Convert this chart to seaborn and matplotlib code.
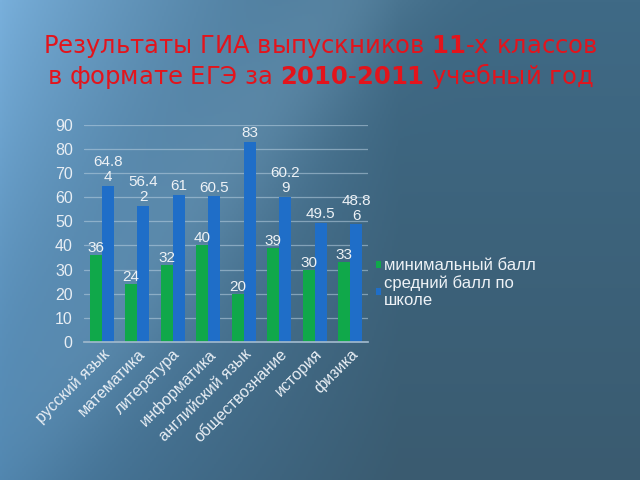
import numpy as np
import pandas as pd
import matplotlib
matplotlib.use("Agg")
import matplotlib.pyplot as plt
import seaborn as sns

subjects = ["русский язык", "математика", "литература", "информатика",
            "английский язык", "обществознание", "история", "физика"]
min_score = [36, 24, 32, 40, 20, 39, 30, 33]
avg_score = [64.84, 56.42, 61, 60.5, 83, 60.29, 49.5, 48.86]
min_labels = ["36", "24", "32", "40", "20", "39", "30", "33"]
avg_labels = ["64.8\n4", "56.4\n2", "61", "60.5", "83", "60.2\n9", "49.5", "48.8\n6"]
series_names = ["минимальный балл", "средний балл по\nшколе"]
yticks = [0, 10, 20, 30, 40, 50, 60, 70, 80, 90]
title_line1 = "Результаты ГИА выпускников $\\mathbf{11}$-х классов"
title_line2 = "в формате ЕГЭ за $\\mathbf{2010}$-$\\mathbf{2011}$ учебный год"

df = pd.DataFrame({
    "subject": subjects * 2,
    "value": min_score + avg_score,
    "series": [series_names[0]] * len(subjects) + [series_names[1]] * len(subjects),
})

sns.set_theme(style="white")
plt.rcParams["font.family"] = ["Liberation Sans", "DejaVu Sans"]
plt.rcParams["mathtext.fontset"] = "dejavusans"

fig = plt.figure(figsize=(6.4, 4.8), dpi=100)

# background gradient
bg = fig.add_axes([0, 0, 1, 1], zorder=-10)
bg.axis("off")
h, w = 240, 320
yy, xx = np.mgrid[0:1:h * 1j, 0:1:w * 1j]
tl = np.array([0x79, 0xb0, 0xdc]) / 255
tr = np.array([0x3f, 0x6a, 0x86]) / 255
bl = np.array([0x4a, 0x7f, 0xa8]) / 255
br = np.array([0x3a, 0x5b, 0x70]) / 255
xs = np.clip(xx * 1.6, 0, 1) ** 0.8
img = ((1 - yy)[..., None] * ((1 - xs)[..., None] * tl + xs[..., None] * tr)
       + yy[..., None] * ((1 - xs)[..., None] * bl + xs[..., None] * br))
d = xx * 1.0 + yy * 0.55 - 0.55
band = np.exp(-(d / 0.12) ** 2) * 0.06 * (1 - yy * 0.5)
img = np.clip(img + band[..., None], 0, 1)
bg.imshow(img, aspect="auto", extent=[0, 1, 0, 1], origin="upper")
bg.set_xlim(0, 1)
bg.set_ylim(0, 1)

ax = fig.add_axes([0.131, 0.2875, 0.444, 0.4525])
ax.patch.set_alpha(0)
palette = ["#10a84a", "#1f6ec8"]
sns.barplot(data=df, x="subject", y="value", hue="series", palette=palette,
            width=0.68, gap=0, saturation=1, ax=ax, legend=True, linewidth=0)

ax.set_ylim(0, 90)
ax.set_yticks(yticks)
ax.set_xlim(-0.5, len(subjects) - 0.5)
ax.grid(axis="y", color="#b8cfe0", linewidth=0.9, alpha=0.55)
ax.set_axisbelow(True)
for s in ["top", "right", "left"]:
    ax.spines[s].set_visible(False)
ax.spines["bottom"].set_color("#9fb8cc")
ax.set_xlabel("")
ax.set_ylabel("")
ax.tick_params(axis="y", colors="#e8eef4", labelsize=11.5, length=0, pad=8)
ax.tick_params(axis="x", colors="#e8eef4", labelsize=11.5, length=0, pad=3)
plt.setp(ax.get_xticklabels(), rotation=45, ha="right", rotation_mode="anchor")

txt_color = "#eef2f6"
ax.bar_label(ax.containers[0], labels=min_labels, color=txt_color, fontsize=11, padding=0)
ax.bar_label(ax.containers[1], labels=avg_labels, color=txt_color, fontsize=11, padding=1,
             linespacing=1.1)

leg = ax.legend(loc="center left", bbox_to_anchor=(1.0, 0.27), frameon=False,
                fontsize=12, handlelength=0.3, handleheight=0.3, handletextpad=0.15,
                labelspacing=0.1, borderaxespad=0.1)
for t in leg.get_texts():
    t.set_color(txt_color)

title_kw = dict(ha="center", va="center", color="#e3141c", fontsize=17.5,
                family=["DejaVu Sans"])
fig.text(0.5, 1 - 47 / 480, title_line1, **title_kw)
fig.text(0.5, 1 - 76 / 480, title_line2, **title_kw)

fig.savefig("out.png", dpi=100)
